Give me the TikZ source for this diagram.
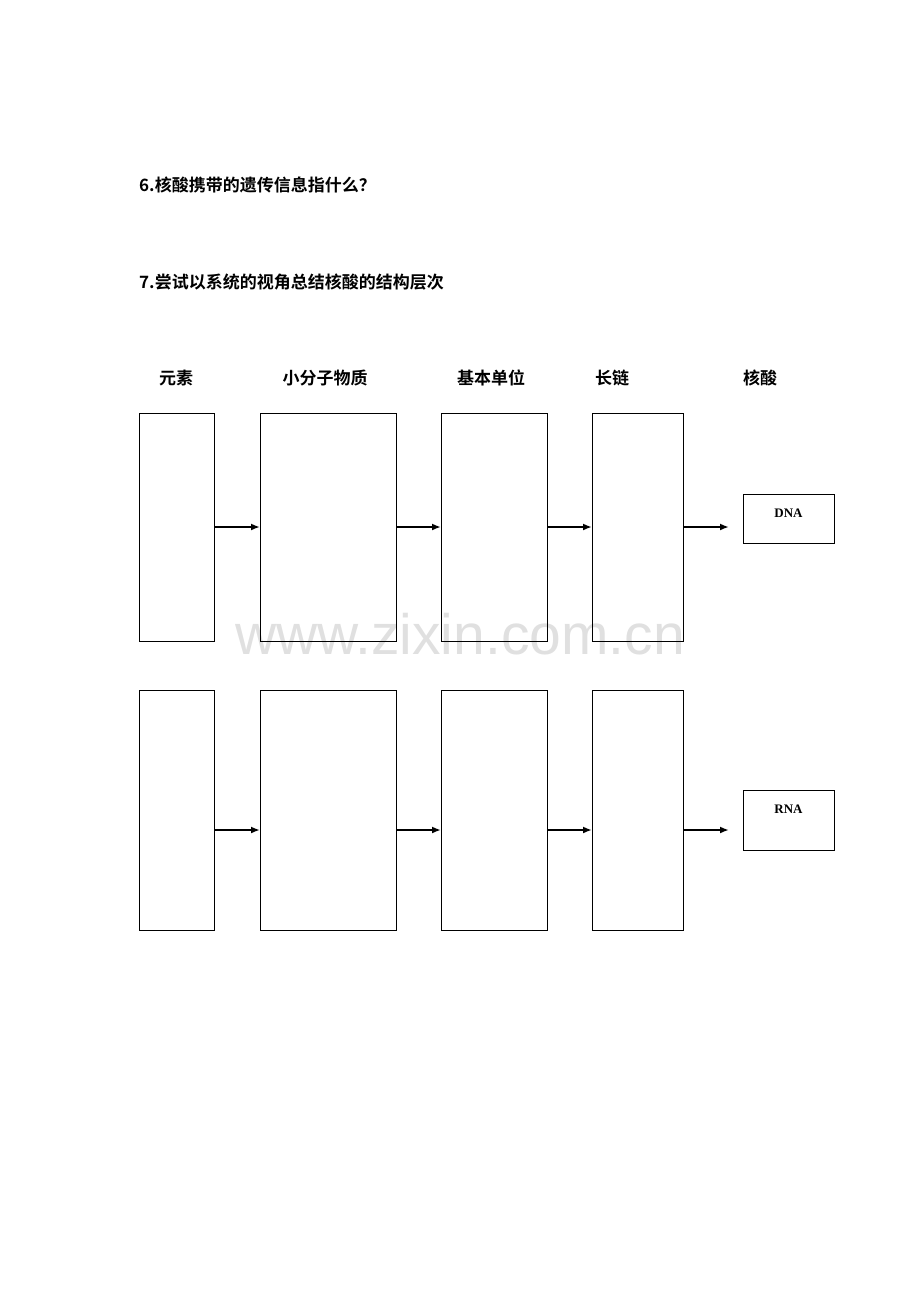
\documentclass[tikz,border=0pt]{standalone}
\usepackage{fontspec}
\usetikzlibrary{arrows.meta}
\newfontfamily\cjk{Noto Sans CJK SC}[BoldFont={Noto Sans CJK SC Bold}]
\newfontfamily\wm{Liberation Sans}
\setmainfont{Liberation Serif}
\begin{document}
\begin{tikzpicture}[x=1pt,y=-1pt,
 bx/.style={draw,line width=0.8pt},
 arr/.style={-{Latex[length=9pt,width=7pt]},line width=2.6pt},
 lab/.style={font=\cjk\bfseries\fontsize{17}{20}\selectfont}]
\useasboundingbox (0,0) rectangle (920,1302);
\node[lab,anchor=west,inner sep=0pt] (q6) at (139,185) {6.核酸携带的遗传信息指什么？};
\node[lab,anchor=west,inner sep=0pt] (q7) at (139,282) {7.尝试以系统的视角总结核酸的结构层次};
\node[lab] (h1) at (176,378) {元素};
\node[lab] (h2) at (325,378) {小分子物质};
\node[lab] (h3) at (491,378) {基本单位};
\node[lab] (h4) at (612,378) {长链};
\node[lab] (h5) at (760,378) {核酸};
\node[text=black!12,font=\wm\fontsize{57}{60}\selectfont] (w) at (460,634) {www.zixin.com.cn};
% row 1
\draw[bx] (139,413) rectangle (214,641);
\draw[bx] (260,413) rectangle (396,641);
\draw[bx] (441,413) rectangle (547,641);
\draw[bx] (592,413) rectangle (683,641);
\draw[bx] (743,494) rectangle (834,543);
\node[font=\bfseries\fontsize{13}{15}\selectfont] (dna) at (788.5,513) {DNA};
\foreach \a/\b in {214/260,396/441,547/592,683/729}
  \draw[arr] (\a,527) -- (\b,527);
% row 2
\draw[bx] (139,690) rectangle (214,930);
\draw[bx] (260,690) rectangle (396,930);
\draw[bx] (441,690) rectangle (547,930);
\draw[bx] (592,690) rectangle (683,930);
\draw[bx] (743,790) rectangle (834,850);
\node[font=\bfseries\fontsize{13}{15}\selectfont] (rna) at (788.5,809) {RNA};
\foreach \a/\b in {214/260,396/441,547/592,683/729}
  \draw[arr] (\a,830) -- (\b,830);
\end{tikzpicture}
\end{document}
